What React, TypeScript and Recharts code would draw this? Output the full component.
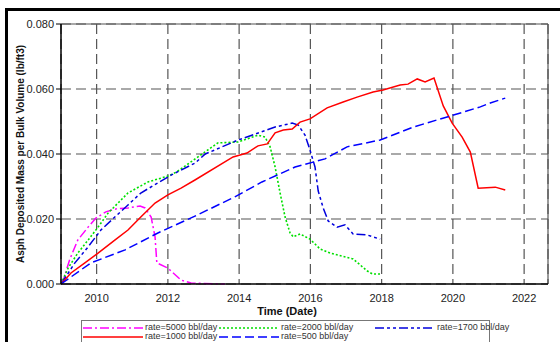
import React from "react";
import {
  LineChart,
  Line,
  XAxis,
  YAxis,
  CartesianGrid,
  ReferenceLine,
} from "recharts";

// time in decimal years, values in lb/ft3
const t5000 = [2009.0, 2009.05, 2009.24, 2009.47, 2009.76, 2009.98, 2010.26, 2010.54, 2010.88, 2011.22, 2011.36, 2011.53, 2011.64, 2011.69, 2012.0, 2012.37, 2012.65, 2013.6];
const v5000 = [0, 0.0006, 0.0074, 0.0135, 0.0175, 0.0203, 0.0222, 0.0231, 0.0234, 0.024, 0.0234, 0.0206, 0.0145, 0.0065, 0.0049, 0.0012, 0.0003, 0];

const t2000 = [2009.0, 2009.2, 2009.47, 2009.76, 2010.04, 2010.32, 2010.6, 2010.88, 2011.44, 2012.0, 2012.25, 2013.0, 2013.4, 2013.97, 2014.53, 2014.73, 2014.87, 2015.01, 2015.15, 2015.29, 2015.43, 2015.52, 2015.71, 2015.99, 2016.27, 2016.56, 2017.2, 2017.6, 2017.74, 2017.96];
const v2000 = [0, 0.0049, 0.0095, 0.0135, 0.0175, 0.0218, 0.0249, 0.028, 0.0314, 0.0332, 0.0345, 0.0403, 0.0434, 0.0437, 0.0458, 0.0452, 0.0422, 0.036, 0.028, 0.0206, 0.0157, 0.0145, 0.0154, 0.0138, 0.0108, 0.0095, 0.0077, 0.004, 0.0031, 0.0031];

const t1700 = [2009.0, 2009.11, 2009.39, 2009.76, 2010.12, 2010.51, 2010.88, 2011.24, 2011.72, 2012.09, 2012.76, 2013.05, 2013.97, 2015.01, 2015.49, 2015.66, 2015.85, 2015.99, 2016.13, 2016.22, 2016.36, 2016.5, 2016.75, 2016.97, 2017.2, 2017.59, 2017.96];
const v1700 = [0, 0.0018, 0.0065, 0.0114, 0.0166, 0.0206, 0.0243, 0.028, 0.0311, 0.0335, 0.0372, 0.04, 0.0443, 0.0483, 0.0495, 0.0489, 0.0458, 0.0412, 0.036, 0.0286, 0.0234, 0.0194, 0.0175, 0.0182, 0.0154, 0.0151, 0.0138];

const t1000 = [2009.0, 2009.28, 2009.67, 2010.04, 2010.51, 2010.88, 2011.24, 2011.64, 2012.0, 2012.37, 2012.76, 2013.83, 2014.22, 2014.53, 2014.79, 2015.01, 2015.24, 2015.49, 2015.71, 2015.99, 2016.47, 2016.92, 2017.31, 2017.76, 2018.04, 2018.52, 2018.74, 2019.0, 2019.22, 2019.47, 2019.73, 2019.98, 2020.26, 2020.49, 2020.71, 2021.19, 2021.47];
const v1000 = [0, 0.0034, 0.0065, 0.0095, 0.0135, 0.0166, 0.0206, 0.0249, 0.0274, 0.0295, 0.032, 0.0391, 0.0403, 0.0425, 0.0431, 0.0465, 0.0474, 0.0477, 0.0498, 0.0508, 0.0542, 0.056, 0.0575, 0.0591, 0.0597, 0.0612, 0.0615, 0.0631, 0.0622, 0.0634, 0.0548, 0.0495, 0.0452, 0.0406, 0.0295, 0.0298, 0.0289];

const t500 = [2009.0, 2009.84, 2010.8, 2011.72, 2012.76, 2013.88, 2014.64, 2015.57, 2016.41, 2017.03, 2017.96, 2018.89, 2019.93, 2020.77, 2021.05, 2021.47];
const v500 = [0, 0.0065, 0.0105, 0.0157, 0.0209, 0.0268, 0.0314, 0.036, 0.0385, 0.0422, 0.0443, 0.0483, 0.0517, 0.0545, 0.0557, 0.0572];

const yearTicks = [2010, 2012, 2014, 2016, 2018, 2020, 2022];
const valueTicks = [0, 0.02, 0.04, 0.06, 0.08];

const X_MIN = 2009.0;
const X_MAX = 2022.67;

const zip = (t: number[], v: number[]) => t.map((x, i) => ({ t: x, v: v[i] }));

const series = [
  { name: "rate=5000 bbl/day", data: zip(t5000, v5000), color: "#ff00ff", dash: "9 3 2 3", width: 1.5 },
  { name: "rate=2000 bbl/day", data: zip(t2000, v2000), color: "#00e000", dash: "2 2", width: 1.6 },
  { name: "rate=1700 bbl/day", data: zip(t1700, v1700), color: "#0000dd", dash: "9 3 3 3 3 3", width: 1.5 },
  { name: "rate=1000 bbl/day", data: zip(t1000, v1000), color: "#ff0000", dash: undefined, width: 1.5 },
  { name: "rate=500 bbl/day", data: zip(t500, v500), color: "#0000ff", dash: "9 4", width: 1.5 },
];

const font = "'Liberation Sans', Arial, sans-serif";

const LegendItem = ({ s, x, y }: { s: (typeof series)[number]; x: number; y: number }) => (
  <div style={{ position: "absolute", left: x, top: y, display: "flex", alignItems: "center", whiteSpace: "nowrap" }}>
    <svg width={60} height={6} style={{ display: "block" }}>
      <line x1={0} y1={3} x2={60} y2={3} stroke={s.color} strokeWidth={s.width} strokeDasharray={s.dash} />
    </svg>
    <span style={{ marginLeft: 2, fontSize: 9, color: "#333", fontFamily: font, lineHeight: "9px" }}>{s.name}</span>
  </div>
);

export default function App() {
  return (
    <div style={{ position: "absolute", left: 0, top: 0, width: 560, height: 342, overflow: "hidden", background: "#fff" }}>
      {/* outer frame */}
      <div style={{ position: "absolute", left: 5, top: 8, width: 560, height: 3, background: "#000" }} />
      <div style={{ position: "absolute", left: 5, top: 8, width: 3, height: 340, background: "#000" }} />

      <div style={{ position: "absolute", left: 0, top: 0 }}>
        <LineChart width={560} height={342} margin={{ top: 24, right: 12, bottom: 28, left: 0 }}>
          <CartesianGrid stroke="#555" strokeDasharray="10 5" strokeWidth={1.2} />
          <XAxis
            type="number"
            dataKey="t"
            domain={[X_MIN, X_MAX]}
            ticks={yearTicks}
            allowDataOverflow
            height={30}
            tickLine={false}
            axisLine={{ stroke: "#000", strokeWidth: 1.5 }}
            tick={{ fontSize: 11, fill: "#222", fontFamily: font }}
            tickMargin={4}
          />
          <YAxis
            type="number"
            domain={[0, 0.08]}
            ticks={valueTicks}
            width={61}
            tickSize={5}
            tickLine={{ stroke: "#000" }}
            axisLine={{ stroke: "#000", strokeWidth: 1.5 }}
            tick={{ fontSize: 11, fill: "#222", fontFamily: font }}
            tickFormatter={(v: number) => v.toFixed(3)}
          />
          <ReferenceLine y={0.08} stroke="#555" strokeWidth={1.2} />
          <ReferenceLine x={X_MAX} stroke="#555" strokeWidth={1.2} />
          {series.map((s) => (
            <Line
              key={s.name}
              data={s.data}
              dataKey="v"
              name={s.name}
              type="linear"
              stroke={s.color}
              strokeWidth={s.width}
              strokeDasharray={s.dash}
              dot={false}
              isAnimationActive={false}
            />
          ))}
        </LineChart>
      </div>

      {/* axis titles */}
      <div
        style={{
          position: "absolute",
          left: 20,
          top: 154,
          transform: "translate(-50%, -50%) rotate(-90deg)",
          whiteSpace: "nowrap",
          fontSize: 10,
          fontWeight: "bold",
          fontFamily: font,
          color: "#111",
        }}
      >
        Asph Deposited Mass per Bulk Volume (lb/ft3)
      </div>
      <div
        style={{
          position: "absolute",
          left: 287,
          top: 311,
          transform: "translate(-50%, -50%)",
          whiteSpace: "nowrap",
          fontSize: 11,
          lineHeight: "12px",
          fontWeight: "bold",
          fontFamily: font,
          color: "#111",
        }}
      >
        Time (Date)
      </div>

      {/* legend */}
      <div style={{ position: "absolute", left: 81, top: 320, width: 407, height: 30, border: "1px solid #777" }} />
      <LegendItem s={series[0]} x={83} y={323} />
      <LegendItem s={series[1]} x={219} y={323} />
      <LegendItem s={series[2]} x={375} y={323} />
      <LegendItem s={series[3]} x={83} y={332} />
      <LegendItem s={series[4]} x={219} y={332} />
    </div>
  );
}
